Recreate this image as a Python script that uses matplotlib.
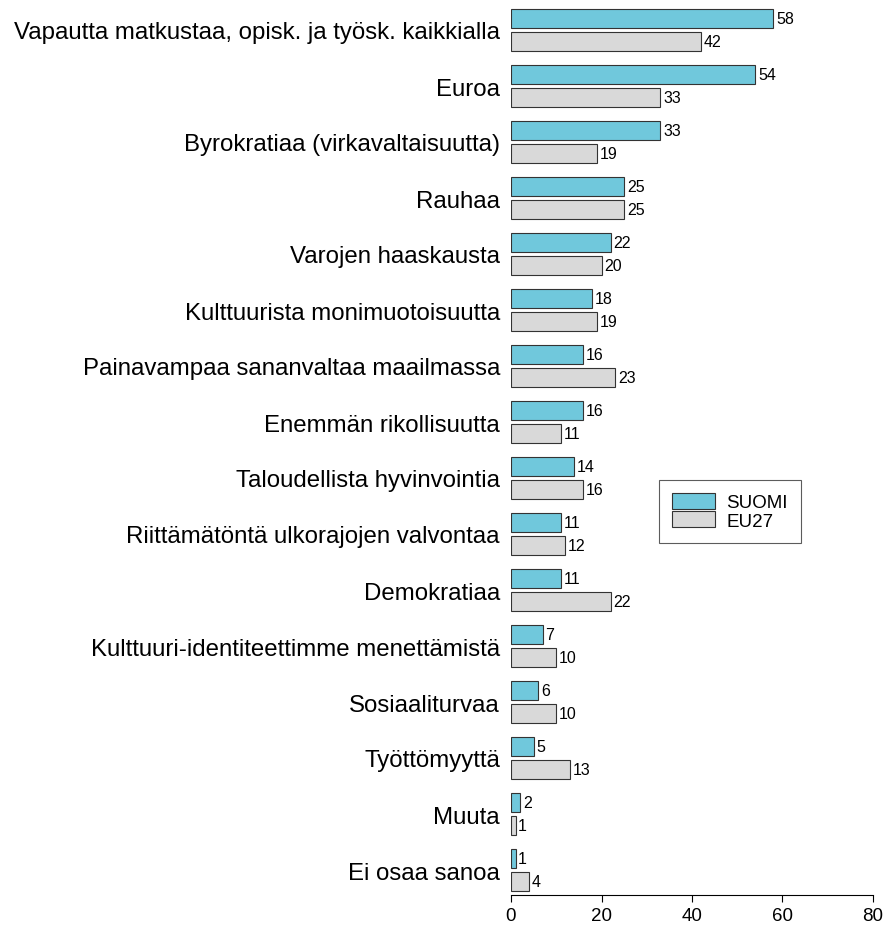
import matplotlib
matplotlib.use("Agg")
import matplotlib.pyplot as plt
import numpy as np
from matplotlib.patches import Patch

categories = [
    "Vapautta matkustaa, opisk. ja työsk. kaikkialla",
    "Euroa",
    "Byrokratiaa (virkavaltaisuutta)",
    "Rauhaa",
    "Varojen haaskausta",
    "Kulttuurista monimuotoisuutta",
    "Painavampaa sananvaltaa maailmassa",
    "Enemmän rikollisuutta",
    "Taloudellista hyvinvointia",
    "Riittämätöntä ulkorajojen valvontaa",
    "Demokratiaa",
    "Kulttuuri-identiteettimme menettämistä",
    "Sosiaaliturvaa",
    "Työttömyyttä",
    "Muuta",
    "Ei osaa sanoa",
]
suomi = [58, 54, 33, 25, 22, 18, 16, 16, 14, 11, 11, 7, 6, 5, 2, 1]
eu27 = [42, 33, 19, 25, 20, 19, 23, 11, 16, 12, 22, 10, 10, 13, 1, 4]
series_names = ["SUOMI", "EU27"]
xticks = [0, 20, 40, 60, 80]

plt.rcParams['font.family'] = ['Liberation Sans', 'DejaVu Sans']

W, H = 886, 929
fig = plt.figure(figsize=(W / 100, H / 100), dpi=100)
left, right = 511, 873
top, bottom = 5, 896
ax = fig.add_axes([left / W, 1 - bottom / H, (right - left) / W, (bottom - top) / H])

c_suomi = '#70C8DC'
c_eu = '#D9D9D9'
edge = '#333333'
y = np.arange(len(categories))
h = 0.34
off = 0.2
ax.barh(y - off, suomi, height=h, color=c_suomi, edgecolor=edge, linewidth=0.8)
ax.barh(y + off, eu27, height=h, color=c_eu, edgecolor=edge, linewidth=0.8)

for yi, v in zip(y, suomi):
    ax.text(v + 0.6, yi - off, str(v), va='center', ha='left', fontsize=11.5)
for yi, v in zip(y, eu27):
    ax.text(v + 0.6, yi + off, str(v), va='center', ha='left', fontsize=11.5)

ax.set_xlim(0, 80)
ax.set_ylim(15 + 25 / 56, -26 / 56)
ax.set_yticks(y)
ax.set_yticklabels(categories, fontsize=17.3)
ax.tick_params(axis='y', length=0, pad=8)
ax.set_xticks(xticks)
ax.tick_params(axis='x', length=5, width=0.8, labelsize=13.5, pad=4)
for s in ['top', 'right', 'left']:
    ax.spines[s].set_visible(False)
ax.spines['bottom'].set_bounds(0, 80)
ax.spines['bottom'].set_linewidth(0.8)

handles = [Patch(facecolor=c_suomi, edgecolor=edge, linewidth=0.8),
           Patch(facecolor=c_eu, edgecolor=edge, linewidth=0.8)]
leg = ax.legend(handles, series_names, loc='upper left',
                bbox_to_anchor=((659 - left) / (right - left), 1 - (481 - top) / (bottom - top)),
                frameon=True, fancybox=False, fontsize=13.5, handlelength=2.3,
                handleheight=0.9, labelspacing=0.0, borderpad=0.7, handletextpad=0.6,
                borderaxespad=0)
leg.get_frame().set_edgecolor('#333333')
leg.get_frame().set_linewidth(0.8)

fig.savefig("out.png", dpi=100)
